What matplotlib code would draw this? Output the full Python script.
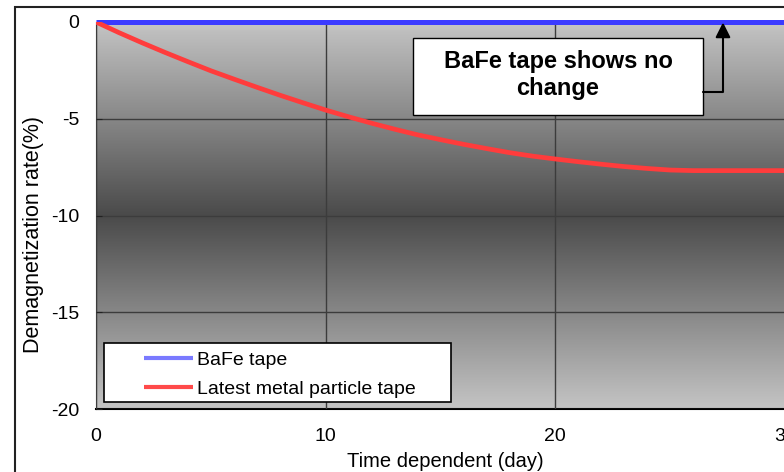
import numpy as np
import matplotlib
matplotlib.use("Agg")
import matplotlib.pyplot as plt
from matplotlib.colors import LinearSegmentedColormap
from matplotlib.patches import Rectangle

plt.rcParams["font.family"] = ["Liberation Sans", "DejaVu Sans"]
plt.rcParams["axes.unicode_minus"] = False

# data
days = [0, 1, 2, 3, 4, 5, 6, 7, 8, 9, 10, 11, 12, 13, 14, 15,
        16, 17, 18, 19, 20, 21, 22, 23, 24, 25, 26, 27, 28, 29, 30]
bafe = [0.0, 0.0, 0.0, 0.0, 0.0, 0.0, 0.0, 0.0, 0.0, 0.0, 0.0, 0.0, 0.0, 0.0, 0.0, 0.0,
        0.0, 0.0, 0.0, 0.0, 0.0, 0.0, 0.0, 0.0, 0.0, 0.0, 0.0, 0.0, 0.0, 0.0, 0.0]
metal = [0.0, -0.55, -1.07, -1.57, -2.05, -2.52, -2.95, -3.37, -3.78, -4.17, -4.55,
         -4.90, -5.23, -5.54, -5.83, -6.08, -6.32, -6.54, -6.75, -6.93, -7.08,
         -7.22, -7.35, -7.47, -7.57, -7.65, -7.68, -7.68, -7.68, -7.68, -7.68]
series_labels = ["BaFe tape", "Latest metal particle tape"]
x_ticks = [0, 10, 20, 30]
y_ticks = [0, -5, -10, -15, -20]
note = "BaFe tape shows no\nchange"

W, H = 784, 472
fig = plt.figure(figsize=(W / 100, H / 100), dpi=100)
fig.patch.set_facecolor("white")

# outer chart border (only left + top fall inside the picture)
fig.patches.append(Rectangle((15 / W, -0.2), 1.2, 0.2 + (H - 7) / H,
                             transform=fig.transFigure, fill=False,
                             edgecolor="#222222", lw=1.5))

ax = fig.add_axes([96 / W, (H - 409) / H, 689 / W, 387 / H])
ax.set_xlim(0, 30)
ax.set_ylim(-20, 0)

# grey gradient background: light -> dark -> light
cmap = LinearSegmentedColormap.from_list(
    "bg", [(0.0, "#c4c4c4"), (0.5, "#4a4a4a"), (1.0, "#c4c4c4")])
ax.imshow(np.linspace(0, 1, 256).reshape(-1, 1), cmap=cmap, aspect="auto",
          extent=[0, 30, -20, 0], origin="upper", zorder=0)

ax.grid(True, color="#3c3c3c", lw=1.0, zorder=1)
ax.set_axisbelow(False)

l1, = ax.plot(days, bafe, color="#3a3aff", lw=3.6, zorder=4, clip_on=False,
              solid_capstyle="butt")
l2, = ax.plot(days, metal, color="#ff3c3c", lw=3.4, zorder=4,
              solid_capstyle="butt")

ax.set_xticks(x_ticks)
ax.set_yticks(y_ticks)
ax.tick_params(axis="x", direction="in", length=0, pad=14, labelsize=14)
ax.tick_params(axis="y", direction="in", length=4, pad=12, labelsize=14,
               color="#222222")
for s in ["top", "right"]:
    ax.spines[s].set_visible(False)
ax.spines["left"].set_color("#222222")
ax.spines["bottom"].set_color("black")
ax.spines["bottom"].set_linewidth(1.5)

ax.set_xlabel("Time dependent (day)", fontsize=14.5)
ax.xaxis.set_label_coords(0.507, -0.11)
ax.set_ylabel("Demagnetization rate(%)", fontsize=15.5)
ax.yaxis.set_label_coords(-0.075, 0.45)

# legend with a hand-placed frame
frame = Rectangle((8 / 689, 7 / 387), 347 / 689, 59 / 387, transform=ax.transAxes,
                  facecolor="white", edgecolor="black", lw=1.2, zorder=5)
ax.add_patch(frame)
leg = ax.legend([l1, l2], series_labels, loc="lower left",
                bbox_to_anchor=(44 / 689, 7 / 387), frameon=False, fontsize=14,
                handlelength=2.55, handletextpad=0.2, labelspacing=0.6,
                borderpad=0.2, borderaxespad=0)
leg.set_zorder(6)
for h in leg.get_lines():
    h.set_linewidth(3)
leg.get_lines()[0].set_color("#7a7aff")
leg.get_lines()[1].set_color("#ff4a4a")

# annotation box and arrow
ax.add_patch(Rectangle((13.8, -4.81), 12.63, 3.98, facecolor="white",
                       edgecolor="black", lw=1.0, zorder=5))
ax.text(13.8 + 12.63 / 2, -2.75, note, ha="center", va="center", fontsize=17,
        fontweight="bold", linespacing=1.2, zorder=6)
ax.annotate("", xy=(27.3, -0.02), xytext=(26.43, -3.62),
            arrowprops=dict(arrowstyle="-|>,head_length=0.9,head_width=0.45",
                            color="black", lw=1.5,
                            connectionstyle="angle,angleA=0,angleB=90,rad=0",
                            shrinkA=0, shrinkB=0),
            zorder=6)

fig.savefig("out.png", dpi=100)
